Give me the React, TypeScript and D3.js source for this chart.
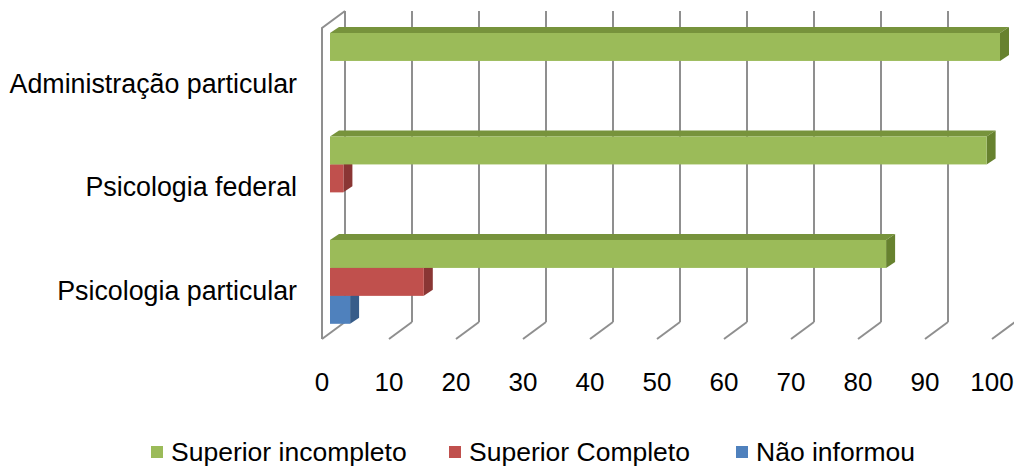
import { useEffect, useRef } from 'react';
import * as d3 from 'd3';

const categories = ["Administração particular", "Psicologia federal", "Psicologia particular"];
const seriesNames = ["Superior incompleto", "Superior Completo", "Não informou"];
const superiorIncompleto = [100, 98, 83];
const superiorCompleto = [0, 2, 14];
const naoInformou = [0, 0, 3];
const ticks = [0, 10, 20, 30, 40, 50, 60, 70, 80, 90, 100];

const colors = [
  { front: "#9BBB59", top: "#77933C", side: "#67822F" },
  { front: "#C0504D", top: "#9E3F3C", side: "#8A3634" },
  { front: "#4F81BD", top: "#3E6697", side: "#375C89" },
];

export default function App() {
  const svgRef = useRef<SVGSVGElement>(null);

  useEffect(() => {
    if (!svgRef.current) return;
    const svg = d3.select(svgRef.current);
    svg.selectAll("*").remove();

    const font = "'Liberation Sans', Arial, sans-serif";

    // depth of the 3d box
    const depthX = 23;
    const depthY = -17;
    const floorY = 339;
    const wallTop = 28;

    const x = d3.scaleLinear().domain([0, 100]).range([322, 992]);

    // bars sit in a middle plane of the box
    const barDx = 8;
    const barDepthX = 9;
    const barDepthY = -6;

    const y = d3.scaleBand<string>()
      .domain(categories)
      .range([33, 323.8])
      .paddingInner(0.19)
      .paddingOuter(0);

    const inner = d3.scaleBand<string>()
      .domain(seriesNames)
      .range([0, y.bandwidth()]);

    // gridlines
    const grid = svg.append("g")
      .attr("stroke", "#8f8f8f")
      .attr("stroke-width", 2)
      .attr("fill", "none");

    ticks.forEach(t => {
      const bx = x(t) + depthX;
      grid.append("line")
        .attr("x1", bx).attr("y1", wallTop + depthY)
        .attr("x2", bx).attr("y2", floorY + depthY);
      grid.append("line")
        .attr("x1", bx).attr("y1", floorY + depthY)
        .attr("x2", x(t)).attr("y2", floorY);
    });

    // left wall
    grid.append("path")
      .attr("d", `M${x(0)},${floorY}L${x(0)},${wallTop}L${x(0) + depthX},${wallTop + depthY}`);

    // bars, bottom series first so the one above hides its top face
    const seriesValues = [superiorIncompleto, superiorCompleto, naoInformou];
    const bars = svg.append("g");

    categories.forEach((cat, ci) => {
      for (let si = seriesNames.length - 1; si >= 0; si--) {
        const v = seriesValues[si][ci];
        if (!v) continue;
        const x0 = x(0) + barDx;
        const x1 = x(v) + barDx;
        const y0 = (y(cat) || 0) + (inner(seriesNames[si]) || 0);
        const h = inner.bandwidth();
        const c = colors[si];

        bars.append("path")
          .attr("d", `M${x0},${y0}L${x1},${y0}L${x1 + barDepthX},${y0 + barDepthY}L${x0 + barDepthX},${y0 + barDepthY}Z`)
          .attr("fill", c.top);
        bars.append("path")
          .attr("d", `M${x1},${y0}L${x1 + barDepthX},${y0 + barDepthY}L${x1 + barDepthX},${y0 + h + barDepthY}L${x1},${y0 + h}Z`)
          .attr("fill", c.side);
        bars.append("rect")
          .attr("x", x0)
          .attr("y", y0)
          .attr("width", x1 - x0)
          .attr("height", h)
          .attr("fill", c.front);
      }
    });

    // category labels
    svg.append("g")
      .selectAll("text")
      .data(categories)
      .enter()
      .append("text")
      .attr("x", 297)
      .attr("y", d => (y(d) || 0) + y.bandwidth() / 2 + 18)
      .attr("text-anchor", "end")
      .attr("font-family", font)
      .attr("font-size", "26.8px")
      .attr("fill", "#000")
      .text(d => d);

    // tick labels
    svg.append("g")
      .selectAll("text")
      .data(ticks)
      .enter()
      .append("text")
      .attr("x", d => x(d))
      .attr("y", 391)
      .attr("text-anchor", "middle")
      .attr("font-family", font)
      .attr("font-size", "26px")
      .attr("fill", "#000")
      .text(d => d);

    // legend
    const legendX = [151, 449, 736];
    const legend = svg.append("g");
    seriesNames.forEach((name, i) => {
      legend.append("rect")
        .attr("x", legendX[i])
        .attr("y", 446)
        .attr("width", 12)
        .attr("height", 12)
        .attr("fill", colors[i].front);
      legend.append("text")
        .attr("x", legendX[i] + 20)
        .attr("y", 461)
        .attr("font-family", font)
        .attr("font-size", "26.5px")
        .attr("fill", "#000")
        .text(name);
    });
  }, []);

  return (
    <svg
      ref={svgRef}
      width={1014}
      height={469}
      style={{ position: "absolute", left: 0, top: 0, background: "#fff" }}
    ></svg>
  );
}
